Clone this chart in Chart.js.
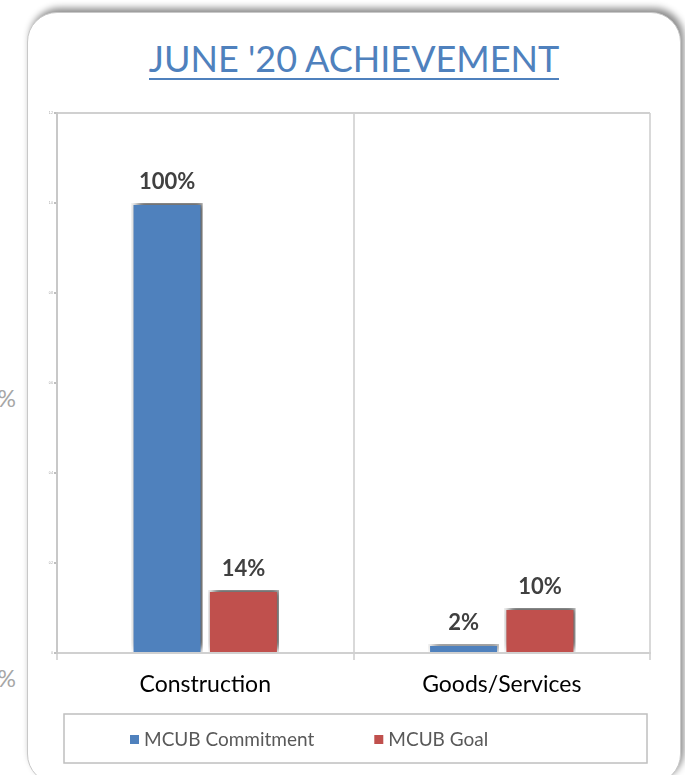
<!DOCTYPE html>
<html>
<head>
<meta charset="utf-8">
<script src="https://cdn.jsdelivr.net/npm/chart.js@4.4.0/dist/chart.umd.min.js"></script>
<style>
  body { margin: 0; width: 685px; height: 775px; background: #fff; overflow: hidden; position: relative; font-family: Lato, sans-serif; }
  .ghost { position: absolute; width: 60px; left: -44px; text-align: right; color: #a6a6a6; font-size: 23px; }
  #card { position: absolute; left: 27px; top: 12px; width: 652px; height: 770px; border: 1.5px solid #c8c8c8;
          border-radius: 30px; background: #fff; box-shadow: 3px -4px 7px rgba(0,0,0,0.45); }
  #title { position: absolute; left: 0; width: 100%; top: 23px; text-align: center; font-size: 36px; color: #4f81bd; }
  #title span { border-bottom: 2px solid #4f81bd; padding-bottom: 0px; line-height: 40px; display: inline-block; }
  #wrap { position: absolute; left: 0; top: 0; width: 652px; height: 763px; }
</style>
</head>
<body>
<div class="ghost" style="top:384px">50%</div>
<div class="ghost" style="top:664px">0%</div>
<div id="card">
  <div id="title"><span>JUNE '20 ACHIEVEMENT</span></div>
  <div id="wrap"><canvas id="chart"></canvas></div>
</div>
<script>
const categories = ["Construction", "Goods/Services"];
const seriesNames = ["MCUB Commitment", "MCUB Goal"];
const commitment = [1.00, 0.02];
const goal = [0.14, 0.10];
const yTicks = [0, 0.2, 0.4, 0.6, 0.8, 1, 1.2];
const colors = ["#4f81bd", "#c0504d"];

// shadow under the bars
const barShadow = {
  id: 'barShadow',
  beforeDatasetsDraw(chart) {
    const c = chart.ctx;
    c.save();
    c.shadowColor = 'rgba(0,0,0,0.75)';
    c.shadowBlur = 8;
    c.shadowOffsetX = 3;
    c.shadowOffsetY = -3;
  },
  afterDatasetsDraw(chart) {
    chart.ctx.restore();
  }
};

// percentage labels above bars
const valueLabels = {
  id: 'valueLabels',
  afterDatasetsDraw(chart) {
    const c = chart.ctx;
    c.save();
    c.font = 'bold 22px Lato';
    c.fillStyle = '#404040';
    c.textAlign = 'center';
    c.textBaseline = 'alphabetic';
    chart.data.datasets.forEach((ds, i) => {
      chart.getDatasetMeta(i).data.forEach((bar, j) => {
        c.fillText(Math.round(ds.data[j] * 100) + '%', bar.x, bar.y - 14);
      });
    });
    c.restore();
  }
};

// boxed legend under the axis
const boxLegend = {
  id: 'boxLegend',
  afterDraw(chart) {
    const c = chart.ctx;
    const a = chart.chartArea;
    const top = a.bottom + 61;
    c.save();
    c.strokeStyle = '#bfbfbf';
    c.lineWidth = 1.5;
    c.strokeRect(a.left + 7, top, a.right - a.left - 10, 49);
    c.font = '19px Lato';
    c.textBaseline = 'middle';
    let x = a.left + 73;
    const cy = top + 26;
    chart.data.datasets.forEach(ds => {
      c.fillStyle = ds.backgroundColor;
      c.fillRect(x, cy - 5, 9, 9);
      c.fillStyle = '#595959';
      c.fillText(ds.label, x + 14, cy);
      x += 14 + c.measureText(ds.label).width + 60;
    });
    c.restore();
  }
};

new Chart(document.getElementById('chart'), {
  type: 'bar',
  data: {
    labels: categories,
    datasets: [
      { label: seriesNames[0], data: commitment, backgroundColor: colors[0] },
      { label: seriesNames[1], data: goal, backgroundColor: colors[1] }
    ]
  },
  options: {
    responsive: true,
    maintainAspectRatio: false,
    animation: false,
    layout: { padding: { top: 100, right: 30, left: 0, bottom: 0 } },
    datasets: {
      bar: { categoryPercentage: 0.515, barPercentage: 0.93, borderColor: '#ffffff', borderWidth: 2, borderSkipped: 'bottom' }
    },
    plugins: {
      legend: { display: false },
      tooltip: { enabled: false }
    },
    scales: {
      x: {
        grid: { color: '#d9d9d9', lineWidth: 2, tickLength: 7, tickColor: '#d9d9d9' },
        border: { color: '#d0d0d0', width: 2 },
        ticks: { color: '#000', font: { family: 'Lato', size: 23 }, padding: 11 },
        afterFit(s) { s.height = 123; }
      },
      y: {
        min: 0,
        max: 1.2,
        afterBuildTicks(s) { s.ticks = yTicks.map(v => ({ value: v })); },
        grid: {
          drawOnChartArea: true,
          color: ctx => ctx.tick && ctx.tick.value === 1.2 ? '#d0d0d0' : 'rgba(0,0,0,0)',
          lineWidth: 2,
          tickLength: 3,
          tickColor: '#bfbfbf'
        },
        border: { color: '#c8c8c8', width: 2 },
        ticks: { color: '#999', font: { size: 3 }, padding: 1 },
        afterFit(s) { s.width = 29; }
      }
    }
  },
  plugins: [barShadow, valueLabels, boxLegend]
});
</script>
</body>
</html>
